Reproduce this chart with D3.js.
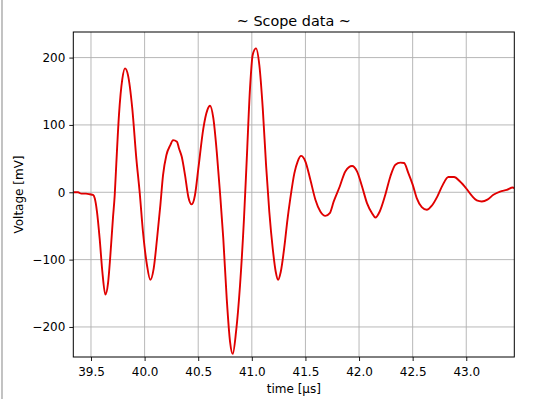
<!DOCTYPE html>
<html>
<head>
<meta charset="utf-8">
<script src="https://cdn.jsdelivr.net/npm/d3@7"></script>
<style>
  html, body { margin: 0; padding: 0; background: #fff; }
  svg { display: block; font-family: "DejaVu Sans", sans-serif; }
</style>
</head>
<body>
<svg id="chart" width="540" height="399"></svg>
<script>
// ---- data ----
const timeUs = [
  39.335, 39.379, 39.410, 39.453, 39.491, 39.519, 39.535, 39.556, 39.581, 39.606,
  39.634, 39.659, 39.680, 39.705, 39.721, 39.736, 39.761, 39.792, 39.817, 39.845,
  39.885, 39.923, 39.954, 39.985, 40.022, 40.053, 40.085, 40.116, 40.147, 40.172,
  40.203, 40.240, 40.265, 40.302, 40.321, 40.346, 40.377, 40.408, 40.439, 40.470,
  40.501, 40.548, 40.585, 40.610, 40.641, 40.673, 40.703, 40.734, 40.766, 40.797,
  40.822, 40.853, 40.890, 40.927, 40.953, 40.983, 41.008, 41.039, 41.070, 41.102,
  41.133, 41.163, 41.195, 41.223, 41.245, 41.270, 41.310, 41.329, 41.360, 41.397,
  41.428, 41.459, 41.499, 41.546, 41.593, 41.639, 41.686, 41.727, 41.764, 41.820,
  41.872, 41.935, 41.981, 42.028, 42.074, 42.121, 42.152, 42.193, 42.245, 42.292,
  42.339, 42.385, 42.420, 42.460, 42.501, 42.538, 42.585, 42.632, 42.678, 42.731,
  42.781, 42.833, 42.886, 42.942, 42.998, 43.051, 43.098, 43.145, 43.197, 43.253,
  43.315, 43.378, 43.434, 43.448
];
const voltageMv = [
  0, 0, -2, -2, -3, -4, -9, -29, -69, -118,
  -152, -135, -95, -38, -5, 42, 115, 168, 184, 174,
  124.5, 50, 0, -59, -108, -130, -113, -69, -19, 25.5,
  55, 70, 77.5, 75, 65, 53, 25.5, -7, -18, -4,
  35, 95, 122, 128.5, 110, 60, 0, -69, -158, -222,
  -240, -207, -138, -39, 50, 154, 204, 213.7, 189, 124.5,
  40, -29, -83.5, -118, -130, -118, -72, -45, -8, 28.5,
  46, 54, 46, 18.5, -11, -28.5, -35, -31, -13.5, 8.6,
  31, 39, 31, 8.6, -16, -31, -37.5, -28.5, -3.7, 23.5,
  41, 44, 43.4, 28.5, 11, -8.6, -22, -26, -20, -6,
  11, 22.6, 22.6, 16, 6, -5, -12, -13.6, -11, -3.7,
  1, 3.7, 7, 6
];
const xTicks = [39.5, 40.0, 40.5, 41.0, 41.5, 42.0, 42.5, 43.0];
const yTicks = [-200, -100, 0, 100, 200];
const xDomain = [39.335, 43.448];
const yDomain = [-244.6, 238];
const titleText = "~ Scope data ~";
const xLabel = "time [µs]";
const yLabel = "Voltage [mV]";

// ---- layout ----
const svg = d3.select("#chart");
const L = 73.3, R = 514.3, T = 32, B = 357;
const x = d3.scaleLinear().domain(xDomain).range([L, R]);
const y = d3.scaleLinear().domain(yDomain).range([B, T]);

// screenshot edge artifact
svg.append("line").attr("x1", 2).attr("x2", 2).attr("y1", 0).attr("y2", 399)
  .attr("stroke", "#9a9a9a").attr("stroke-width", 1.2);

// grid
const grid = svg.append("g").attr("stroke", "#b0b0b0").attr("stroke-width", 0.9);
grid.selectAll("line.gx").data(xTicks).join("line")
  .attr("x1", d => x(d)).attr("x2", d => x(d)).attr("y1", T).attr("y2", B);
grid.selectAll("line.gy").data(yTicks).join("line")
  .attr("y1", d => y(d)).attr("y2", d => y(d)).attr("x1", L).attr("x2", R);

// line
const clipId = "plotclip";
svg.append("clipPath").attr("id", clipId).append("rect")
  .attr("x", L).attr("y", T).attr("width", R - L).attr("height", B - T);
const pts = timeUs.map((t, i) => [t, voltageMv[i]]);
svg.append("path")
  .attr("clip-path", `url(#${clipId})`)
  .attr("d", d3.line().x(d => x(d[0])).y(d => y(d[1])).curve(d3.curveMonotoneX)(pts))
  .attr("fill", "none").attr("stroke", "#e00000").attr("stroke-width", 1.9)
  .attr("stroke-linejoin", "round");

// axes
const fmtX = d3.format(".1f");
const xAxis = d3.axisBottom(x).tickValues(xTicks).tickSize(4).tickPadding(4)
  .tickFormat(d => fmtX(d).replace("-", "\u2212"));
const yAxis = d3.axisLeft(y).tickValues(yTicks).tickSize(4).tickPadding(4)
  .tickFormat(d => String(d).replace("-", "\u2212"));

const gx = svg.append("g").attr("transform", `translate(0,${B})`).call(xAxis);
const gy = svg.append("g").attr("transform", `translate(${L},0)`).call(yAxis);
[gx, gy].forEach(g => {
  g.select(".domain").remove();
  g.selectAll("text").attr("font-size", 12).attr("fill", "#000")
    .attr("font-family", "DejaVu Sans, sans-serif");
  g.selectAll("line").attr("stroke", "#000").attr("stroke-width", 0.9);
});
gx.selectAll("text").attr("dy", null).attr("y", 19);

// frame
svg.append("rect").attr("x", L).attr("y", T).attr("width", R - L).attr("height", B - T)
  .attr("fill", "none").attr("stroke", "#000").attr("stroke-width", 1);

// title & labels
svg.append("text").attr("x", (L + R) / 2).attr("y", 26).attr("text-anchor", "middle")
  .attr("font-size", 14.4).attr("fill", "#000").text(titleText);
svg.append("text").attr("x", (L + R) / 2).attr("y", 393).attr("text-anchor", "middle")
  .attr("font-size", 12).attr("fill", "#000").text(xLabel);
svg.append("text").attr("transform", `translate(22.5,${(T + B) / 2}) rotate(-90)`)
  .attr("text-anchor", "middle").attr("font-size", 12).attr("fill", "#000").text(yLabel);
</script>
</body>
</html>
